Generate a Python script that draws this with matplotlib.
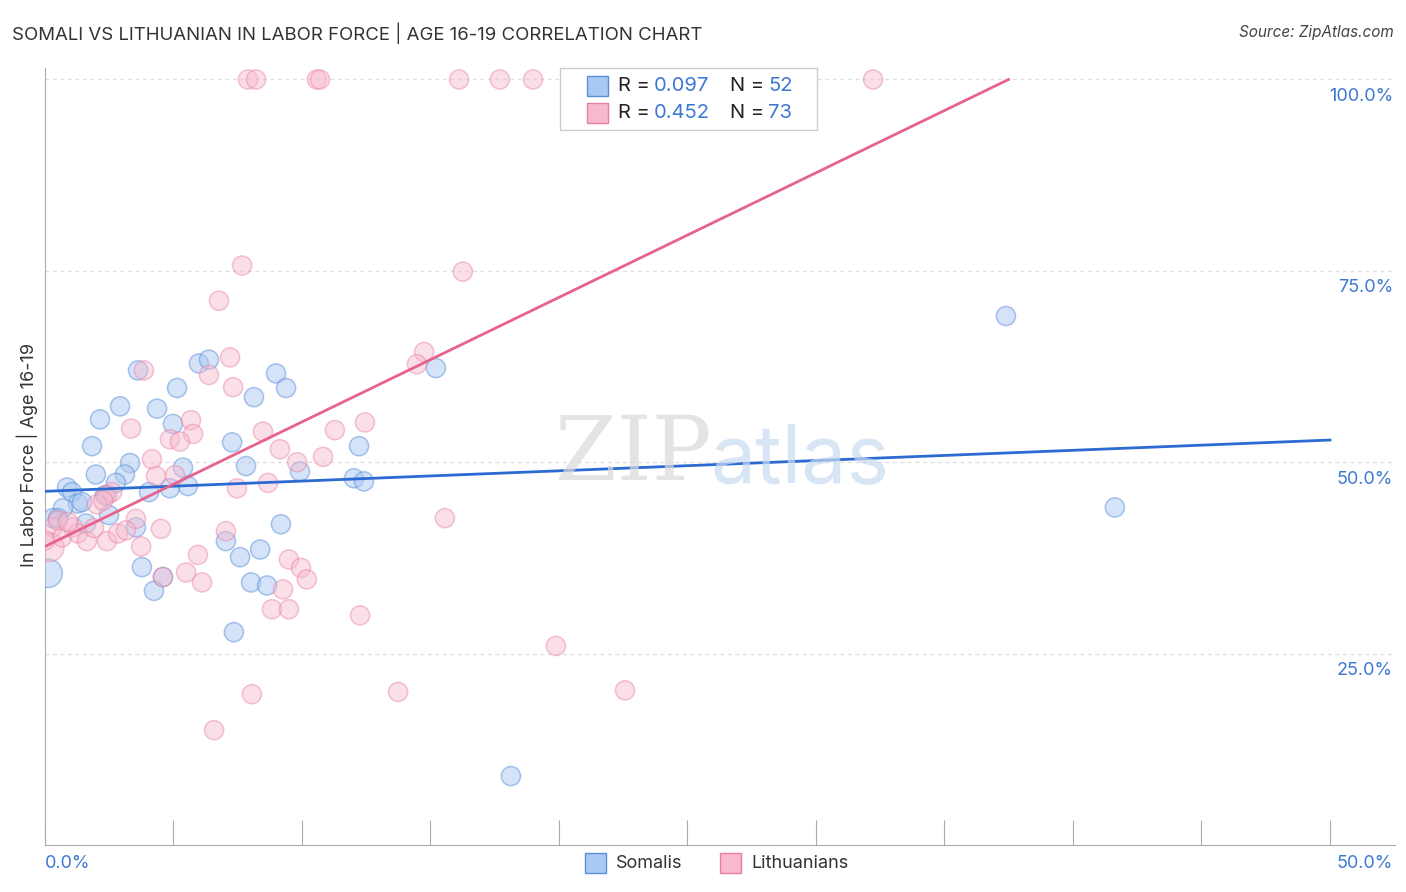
import numpy as np
import matplotlib
matplotlib.use("Agg")
from matplotlib import pyplot as plt
from matplotlib.patches import Rectangle

plt.rcParams['font.family'] = ['Inter', 'DejaVu Sans']

# Somalis (x = % somali, y = % in labor force age 16-19)
somali_x = [3.62, 5.99, 6.38, 8.99, 9.38, 5.14, 8.13, 2.92, 4.36, 2.14,
            4.98, 1.83, 7.28, 12.22, 15.21, 3.31, 7.82, 3.11, 1.98, 5.37,
            9.92, 2.76, 12.02, 12.41, 0.86, 1.05, 4.05, 4.86, 5.56, 2.33,
            1.28, 1.44, 0.70, 0.31, 0.51, 2.49, 1.60, 3.54, 9.18, 7.04,
            7.59, 8.37, 3.77, 4.59, 4.24, 8.02, 8.64, 0.12, 7.35, 37.39,
            41.63, 18.13]
somali_y = [62.0, 62.9, 63.4, 61.6, 59.7, 59.7, 58.5, 57.3, 57.0, 55.6,
            55.0, 52.1, 52.6, 52.1, 62.3, 49.9, 49.5, 48.4, 48.4, 49.3,
            48.8, 47.3, 47.9, 47.5, 46.7, 46.1, 46.1, 46.6, 46.9, 45.7,
            44.6, 44.8, 44.0, 42.7, 42.7, 43.1, 42.0, 41.5, 41.9, 39.7,
            37.6, 38.6, 36.3, 35.0, 33.2, 34.3, 33.9, 35.5, 27.8, 69.1,
            44.1, 9.0]

# Lithuanians
lith_x = [7.90, 8.21, 10.58, 10.70, 16.11, 17.70, 18.99, 20.70, 22.65, 32.22,
          7.67, 6.77, 16.26, 7.20, 3.85, 6.38, 7.32, 14.75, 14.47, 3.35,
          5.68, 5.76, 4.86, 5.25, 8.48, 11.28, 12.45, 9.14, 10.82, 9.81,
          4.16, 4.32, 5.06, 2.61, 2.41, 2.02, 2.26, 7.47, 8.68, 3.54,
          4.51, 0.31, 0.19, 0.66, 1.09, 1.28, 1.63, 1.91, 2.41, 2.84,
          3.15, 3.74, 7.04, 5.95, 5.49, 6.11, 4.59, 9.49, 9.96, 10.19,
          9.26, 8.83, 9.49, 12.26, 15.56, 19.88, 8.05, 13.74, 22.57, 6.58,
          0.0, 0.5, 0.9]
lith_y = [100, 100, 100, 100, 100, 100, 100, 100, 100, 100,
          75.7, 71.1, 74.9, 63.7, 62.0, 61.4, 59.8, 64.4, 62.8, 54.4,
          55.5, 53.7, 53.0, 52.7, 54.0, 54.2, 55.2, 51.7, 50.7, 50.0,
          50.4, 48.2, 48.3, 46.1, 45.7, 44.5, 45.0, 46.6, 47.3, 42.6,
          41.3, 41.5, 38.9, 40.2, 41.5, 40.7, 39.7, 41.4, 39.7, 40.7,
          41.1, 39.0, 41.0, 37.9, 35.6, 34.3, 35.0, 37.3, 36.2, 34.7,
          33.4, 30.8, 30.8, 30.0, 42.7, 26.0, 19.7, 20.0, 20.2, 15.0,
          39.8, 42.4, 42.2]

# trend lines (intercept, slope per %)
somali_trend = (46.2, 0.134)
lith_trend = (39.0, 1.627)

legend_rows = [("0.097", "52"), ("0.452", "73")]
y_ticks = [25, 50, 75, 100]

W, H = 1406, 892
fig = plt.figure(figsize=(W / 100, H / 100), dpi=100)
ax = fig.add_axes([45 / W, 1 - 845 / H, (1395 - 45) / W, (845 - 68) / H])
ax.set_xlim(0, 52.53)
ax.set_ylim(0, 101.5)

blue_face = "#aac9f2"
blue_edge = "#5a8fdb"
pink_face = "#f7b9cd"
pink_edge = "#e87fa2"

s_norm = 190
s_big = 420
sz_s = [s_big if i == 47 else s_norm for i in range(len(somali_x))]
sz_l = [s_big if i == 42 else s_norm for i in range(len(lith_x))]

ax.scatter(somali_x, somali_y, s=sz_s, facecolor=blue_face, edgecolor=blue_edge,
           linewidth=1.1, alpha=0.5, zorder=3)
ax.scatter(lith_x, lith_y, s=sz_l, facecolor=pink_face, edgecolor=pink_edge,
           linewidth=1.1, alpha=0.45, zorder=3)

xs = np.array([0, 50])
ax.plot(xs, somali_trend[0] + somali_trend[1] * xs, color="#2c6bd1", lw=2, zorder=4)
xl = np.array([0, (100 - lith_trend[0]) / lith_trend[1]])
ax.plot(xl, lith_trend[0] + lith_trend[1] * xl, color="#e8628e", lw=2, zorder=4)

for t in y_ticks:
    ax.axhline(t, color="#dddddd", lw=0.9, ls=(0, (3, 3)), zorder=1)
    ax.text(52.45, t - 2.2, "%.1f%%" % t, ha="right", va="center",
            color="#3d78d3", fontsize=13)

for sp in ["top", "right"]:
    ax.spines[sp].set_visible(False)
ax.spines["left"].set_color("#aaaaaa")
ax.spines["bottom"].set_color("#aaaaaa")
ax.set_xticks(np.arange(0, 51, 5))
ax.set_xticklabels([])
ax.set_yticks([])
ax.tick_params(axis="x", direction="in", length=18, color="#aaaaaa")

def px(x, y):
    return x / W, 1 - y / H

fig.text(*px(45, 863), "0.0%", ha="left", va="center", color="#3d78d3", fontsize=13)
fig.text(*px(1393, 863), "50.0%", ha="right", va="center", color="#3d78d3", fontsize=13)

fig.text(*px(27, 455), "In Labor Force | Age 16-19", rotation=90, ha="center",
         va="center", fontsize=13, color="#333333")

fig.text(*px(12, 33), "SOMALI VS LITHUANIAN IN LABOR FORCE | AGE 16-19 CORRELATION CHART",
         ha="left", va="center", fontsize=13.4, color="#333333")
fig.text(*px(1394, 33), "Source: ZipAtlas.com", ha="right", va="center",
         fontsize=11, style="italic", color="#444444")

# watermark
fig.text(*px(633, 455), "ZIP", ha="center", va="center", fontsize=64,
         family="DejaVu Serif", color="#d9d9d9", alpha=0.7)
fig.text(*px(800, 462), "atlas", ha="center", va="center", fontsize=58,
         color="#c8daf2", alpha=0.7)

# top legend
fig.patches.append(Rectangle(px(560, 130), 257 / W, 62 / H, transform=fig.transFigure,
                             facecolor="white", edgecolor="#cccccc", lw=1, zorder=5))
for i, (r, n) in enumerate(legend_rows):
    yy = 86 + i * 27
    fc, ec = (blue_face, blue_edge) if i == 0 else (pink_face, pink_edge)
    fig.patches.append(Rectangle(px(587, yy + 10), 21 / W, 20 / H, transform=fig.transFigure,
                                 facecolor=fc, edgecolor=ec, lw=1, zorder=6))
    fig.text(*px(618, yy), "R =", ha="left", va="center", fontsize=14.5, color="#222222", zorder=7)
    fig.text(*px(654, yy), r, ha="left", va="center", fontsize=14.5, color="#3d78d3", zorder=7)
    fig.text(*px(730, yy), "N =", ha="left", va="center", fontsize=14.5, color="#222222", zorder=7)
    fig.text(*px(768, yy), n, ha="left", va="center", fontsize=14.5, color="#3d78d3", zorder=7)

# bottom legend
for lx, name, fc, ec in [(585, "Somalis", blue_face, blue_edge),
                         (720, "Lithuanians", pink_face, pink_edge)]:
    fig.patches.append(Rectangle(px(lx, 873), 21 / W, 20 / H, transform=fig.transFigure,
                                 facecolor=fc, edgecolor=ec, lw=1))
    fig.text(*px(lx + 31, 863), name, ha="left", va="center", fontsize=13, color="#333333")

fig.savefig("out.png", dpi=100)
